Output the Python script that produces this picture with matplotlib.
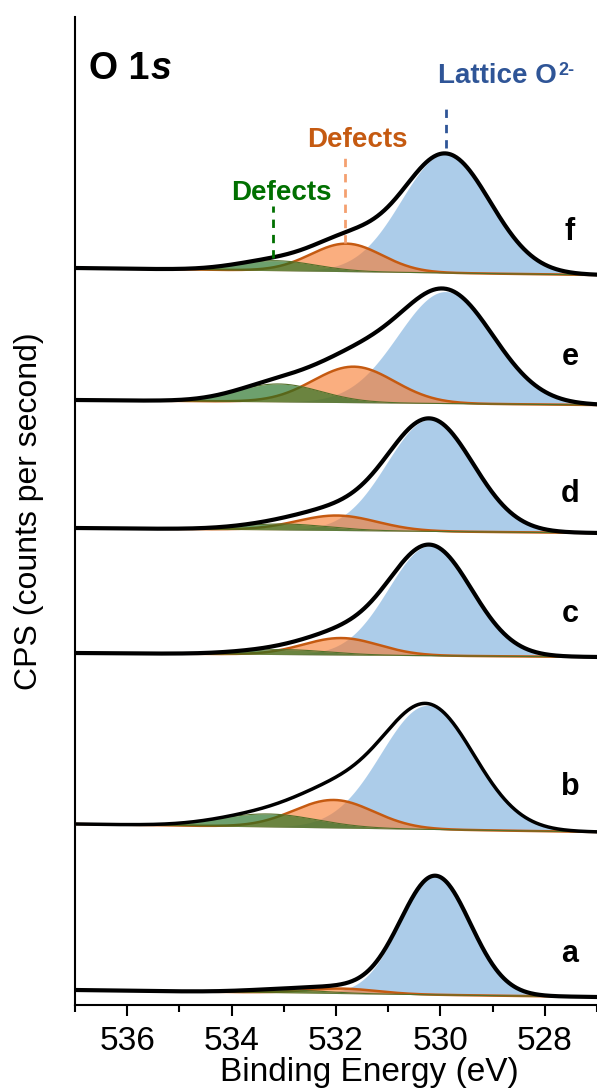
import numpy as np
import matplotlib.pyplot as plt

plt.rcParams['font.family'] = ['Liberation Sans', 'DejaVu Sans']

# spectra labels, bottom to top
labels = ['a', 'b', 'c', 'd', 'e', 'f']

# linear baseline of each spectrum (offset units) at 537 eV and 527 eV
base_left = [15, 181, 352, 477, 605, 737]
base_right = [8, 173, 348, 472, 600, 730]

# lattice O2- component: centre (eV), height, FWHM (eV)
lat_center = [530.10, 530.25, 530.20, 530.20, 529.90, 529.90]
lat_height = [119, 124, 110, 112, 112, 119]
lat_fwhm = [1.58, 2.10, 1.88, 1.95, 2.15, 2.00]

# defects component (orange)
def1_center = [531.90, 532.04, 531.90, 531.98, 531.66, 531.80]
def1_height = [5, 28, 17, 15, 36, 28]
def1_fwhm = [1.6, 1.8, 1.7, 1.8, 1.83, 1.6]

# defects component (green)
def2_center = [533.0, 533.3, 533.0, 533.0, 533.1, 533.15]
def2_height = [3, 13, 5, 6, 18, 10]
def2_fwhm = [1.8, 2.2, 2.0, 2.0, 1.9, 1.8]

# label positions (baseline height)
label_y = [43, 210, 383, 503, 640, 765]

be = np.linspace(537, 527, 600)


def peak(x, c, h, w):
    return h * np.exp(-4 * np.log(2) * ((x - c) / w) ** 2)


fig = plt.figure(figsize=(5.97, 10.92), dpi=100)
ax = fig.add_axes([75 / 597, 87 / 1092, 522 / 597, 988 / 1092])

blue = '#5b9bd5'
orange_fill = '#f8782a'
orange_line = '#c55a11'
green_fill = '#1f6e1f'

for i in range(len(labels)):
    base = base_left[i] + (base_right[i] - base_left[i]) * (537 - be) / 10
    lat = peak(be, lat_center[i], lat_height[i], lat_fwhm[i])
    d1 = peak(be, def1_center[i], def1_height[i], def1_fwhm[i])
    d2 = peak(be, def2_center[i], def2_height[i], def2_fwhm[i])

    ax.fill_between(be, base, base + lat, color=blue, alpha=0.5, lw=0, zorder=2)
    ax.fill_between(be, base, base + d1, color=orange_fill, alpha=0.6, lw=0, zorder=3)
    ax.plot(be, base + d1, color=orange_line, lw=1.8, zorder=3)
    ax.fill_between(be, base, base + d2, color=green_fill, alpha=0.65, lw=0, zorder=4)
    ax.plot(be, base + d2, color='#55702a', lw=0.8, zorder=4)
    ax.plot(be, base + lat + d1 + d2, color='black',
            lw=2.5 if labels[i] == 'b' else 3, zorder=5)
    ax.text(527.52, label_y[i], labels[i], fontsize=22, fontweight='bold',
            ha='center', va='baseline')

# annotations
ax.text(536.74, 926, 'O 1', fontsize=27, fontweight='bold', ha='left', va='baseline')
ax.text(535.56, 926, 's', fontsize=27, fontweight='bold', style='italic',
        ha='left', va='baseline')

ax.text(530.05, 922, 'Lattice O', fontsize=20, fontweight='bold', color='#2f5597',
        ha='left', va='baseline')
ax.text(527.74, 930, '2-', fontsize=13, fontweight='bold', color='#2f5597',
        ha='left', va='baseline')
ax.plot([529.9, 529.9], [857, 902], color='#2f5597', lw=2, ls=(0, (3, 2.5)), zorder=6)

ax.text(531.6, 858, 'Defects', fontsize=20, fontweight='bold', color='#c55a11',
        ha='center', va='baseline')
ax.plot([531.82, 531.82], [762, 853], color='#f4a070', lw=2, ls=(0, (3, 2.5)), zorder=6)

ax.text(533.05, 805, 'Defects', fontsize=20, fontweight='bold', color='#007000',
        ha='center', va='baseline')
ax.plot([533.21, 533.21], [747, 799], color='#007000', lw=2, ls=(0, (3, 2.5)), zorder=6)

ax.set_xlim(537, 527)
ax.set_ylim(0, 988)
ax.set_xticks([536, 534, 532, 530, 528])
ax.set_xticks([537, 535, 533, 531, 529, 527], minor=True)
ax.tick_params(axis='x', which='major', length=8, width=1.5, labelsize=24, pad=7)
ax.tick_params(axis='x', which='minor', length=5, width=1.5)
ax.set_yticks([])

for side in ['top', 'right']:
    ax.spines[side].set_visible(False)
for side in ['left', 'bottom']:
    ax.spines[side].set_linewidth(1.5)

ax.set_xlabel('Binding Energy (eV)', fontsize=24)
ax.xaxis.set_label_coords(0.563, -0.053)
ax.set_ylabel('CPS (counts per second)', fontsize=23)
ax.yaxis.set_label_coords(-0.059, 0.5)

fig.savefig('out.png', dpi=100)
